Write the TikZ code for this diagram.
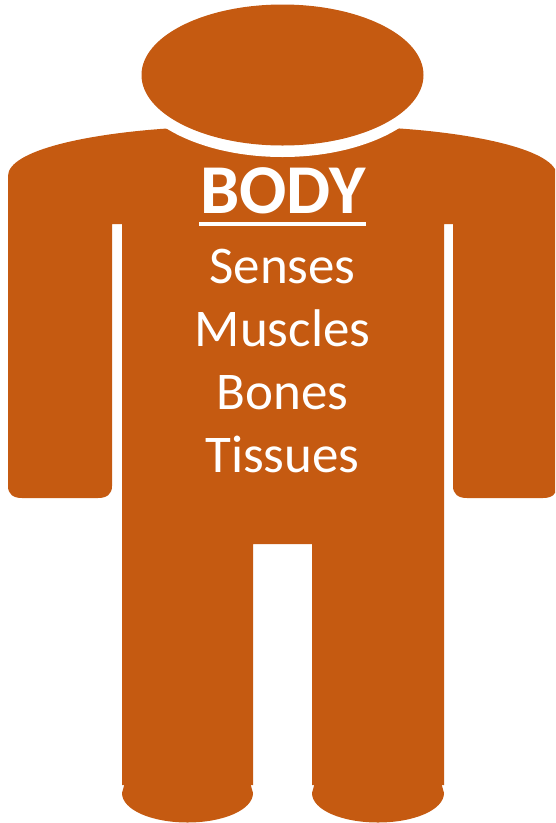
\documentclass[tikz,border=0pt]{standalone}
\usepackage{fontspec}
\setmainfont{Carlito}
\definecolor{bodyorange}{HTML}{C55A11}
\tikzset{
  part/.style={fill=bodyorange,draw=none},
  bodytext/.style={text=white,font=\fontsize{53}{53}\selectfont,inner sep=0pt,anchor=base},
}
\begin{document}
\begin{tikzpicture}[x=1pt,y=-1pt]
\path[use as bounding box] (0,0) rectangle (555,823);
\clip (0,0) rectangle (555,823);
% body silhouette
\fill[part] (8,176) .. controls (8,150) and (90,133) .. (175,128)
  -- (392,128) .. controls (475,133) and (557,150) .. (557,176)
  -- (557,486) .. controls (557,494) and (552,498) .. (543,498)
  -- (467,498) .. controls (458,498) and (453,494) .. (453,486)
  -- (453,224) -- (444,224) -- (444,785) -- (312,785) -- (312,544) -- (253,544)
  -- (253,785) -- (122,785) -- (122,224) -- (112,224)
  -- (112,486) .. controls (112,494) and (107,498) .. (98,498)
  -- (22,498) .. controls (13,498) and (8,494) .. (8,486) -- cycle;
% feet
\fill[part] (124.5,784) -- (122,793) .. controls (122,810) and (152,822.5) .. (187.5,822.5)
  .. controls (223,822.5) and (253,810) .. (253,793) -- (250.5,784) -- cycle;
\fill[part] (314.5,784) -- (312,793) .. controls (312,810) and (342,822.5) .. (378,822.5)
  .. controls (414,822.5) and (444,810) .. (444,793) -- (441.5,784) -- cycle;
% head with its white ring
\fill[white] (282.5,75) ellipse [x radius=153,y radius=82];
\fill[part] (282.5,75) ellipse [x radius=141,y radius=70.5];
% labels
\node[bodytext,font=\fontsize{70}{70}\selectfont\bfseries] (title) at (283,213) {BODY};
\draw[white,line width=4.2pt] (199,224) -- (366,224);
\node[bodytext] (senses) at (282.5,283) {Senses};
\node[bodytext] (muscles) at (282.5,346) {Muscles};
\node[bodytext] (bones) at (282.5,409) {Bones};
\node[bodytext] (tissues) at (282.5,472.5) {Tissues};
\end{tikzpicture}
\end{document}
